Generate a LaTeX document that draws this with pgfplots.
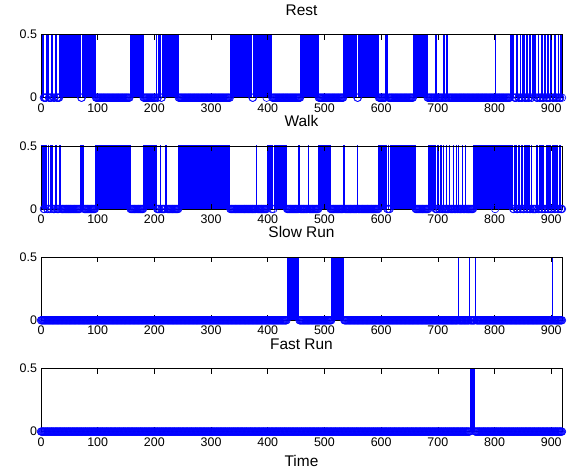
\documentclass[border=0pt]{standalone}
\usepackage{pgfplots}
\usepackage{pgfplotstable}
\pgfplotsset{compat=1.18}
\usepackage{fontspec}
\setmainfont{Liberation Sans}

% Rest (one value per sample, 10 per line)
\pgfplotstableread[row sep=\\,header=false]{
1\\1\\1\\1\\1\\0\\0\\0\\0\\0\\
1\\1\\1\\1\\0\\0\\0\\0\\0\\1\\
1\\1\\0\\0\\0\\1\\1\\1\\0\\0\\
0\\0\\0\\1\\1\\1\\1\\1\\1\\1\\
1\\1\\1\\1\\1\\1\\1\\1\\1\\1\\
1\\1\\1\\1\\1\\1\\1\\1\\1\\1\\
1\\1\\1\\1\\1\\1\\1\\1\\1\\1\\
1\\0\\0\\1\\1\\1\\1\\1\\1\\1\\
1\\1\\1\\1\\1\\1\\1\\1\\1\\1\\
1\\1\\1\\1\\1\\1\\1\\0\\0\\0\\
0\\0\\0\\0\\0\\0\\0\\0\\0\\0\\
0\\0\\0\\0\\0\\0\\0\\0\\0\\0\\
0\\0\\0\\0\\0\\0\\0\\0\\0\\0\\
0\\0\\0\\0\\0\\0\\0\\0\\0\\0\\
0\\0\\0\\0\\0\\0\\0\\0\\0\\0\\
0\\0\\0\\0\\0\\0\\0\\1\\1\\1\\
1\\1\\1\\1\\1\\1\\1\\1\\1\\1\\
1\\1\\1\\1\\1\\1\\1\\1\\1\\1\\
1\\0\\0\\0\\0\\0\\0\\0\\0\\0\\
0\\0\\0\\0\\0\\0\\0\\0\\0\\0\\
0\\0\\0\\1\\1\\0\\0\\1\\1\\1\\
1\\1\\0\\0\\1\\1\\1\\1\\1\\1\\
1\\1\\1\\1\\1\\1\\1\\1\\1\\1\\
1\\1\\1\\1\\1\\1\\1\\1\\1\\1\\
1\\1\\1\\0\\0\\0\\0\\0\\0\\0\\
0\\0\\0\\0\\0\\0\\0\\0\\0\\0\\
0\\0\\0\\0\\0\\0\\0\\0\\0\\0\\
0\\0\\0\\0\\0\\0\\0\\0\\0\\0\\
0\\0\\0\\0\\0\\0\\0\\0\\0\\0\\
0\\0\\0\\0\\0\\0\\0\\0\\0\\0\\
0\\0\\0\\0\\0\\0\\0\\0\\0\\0\\
0\\0\\0\\0\\0\\0\\0\\0\\0\\0\\
0\\0\\0\\0\\0\\0\\0\\0\\0\\0\\
0\\0\\0\\0\\1\\1\\1\\1\\1\\1\\
1\\1\\1\\1\\1\\1\\1\\1\\1\\1\\
1\\1\\1\\1\\1\\1\\1\\1\\1\\1\\
1\\1\\1\\1\\1\\1\\1\\1\\1\\1\\
1\\1\\1\\0\\0\\1\\1\\1\\1\\1\\
1\\1\\1\\1\\1\\1\\1\\1\\1\\1\\
1\\1\\1\\1\\1\\1\\1\\1\\0\\1\\
1\\1\\1\\1\\1\\1\\1\\1\\0\\0\\
0\\0\\0\\0\\0\\0\\0\\0\\0\\0\\
0\\0\\0\\0\\0\\0\\0\\0\\0\\0\\
0\\0\\0\\0\\0\\0\\0\\0\\0\\0\\
0\\0\\0\\0\\0\\0\\0\\0\\0\\0\\
0\\0\\0\\0\\0\\0\\0\\0\\1\\1\\
1\\1\\1\\1\\1\\1\\1\\1\\1\\1\\
1\\1\\1\\1\\1\\1\\1\\1\\1\\1\\
1\\1\\1\\1\\1\\1\\1\\1\\1\\1\\
0\\0\\0\\0\\0\\0\\0\\0\\0\\0\\
0\\0\\0\\0\\0\\0\\0\\0\\0\\0\\
0\\0\\0\\0\\0\\0\\0\\0\\0\\0\\
0\\0\\0\\0\\0\\0\\0\\0\\0\\0\\
0\\0\\0\\0\\1\\1\\1\\1\\1\\1\\
1\\1\\1\\1\\1\\1\\1\\1\\1\\1\\
1\\1\\1\\1\\1\\1\\1\\1\\0\\0\\
1\\1\\1\\1\\1\\1\\1\\1\\1\\1\\
1\\1\\1\\1\\1\\1\\1\\1\\1\\1\\
1\\1\\1\\1\\1\\1\\1\\1\\1\\1\\
1\\1\\1\\1\\1\\1\\0\\0\\0\\0\\
0\\0\\0\\0\\0\\0\\0\\0\\1\\1\\
1\\1\\1\\0\\0\\0\\0\\0\\0\\0\\
0\\0\\0\\0\\0\\0\\0\\0\\0\\0\\
0\\0\\0\\0\\0\\0\\0\\0\\0\\0\\
0\\0\\0\\0\\0\\0\\0\\0\\0\\0\\
0\\0\\0\\0\\0\\0\\0\\1\\1\\1\\
1\\1\\1\\1\\1\\1\\1\\1\\1\\1\\
1\\1\\1\\1\\1\\1\\1\\1\\1\\1\\
1\\1\\0\\0\\0\\0\\0\\0\\0\\0\\
0\\0\\0\\0\\0\\0\\1\\1\\0\\0\\
0\\0\\0\\0\\0\\0\\0\\0\\0\\0\\
1\\1\\0\\0\\0\\0\\1\\1\\0\\0\\
0\\0\\0\\0\\0\\0\\0\\0\\0\\0\\
0\\0\\0\\0\\0\\0\\0\\0\\0\\0\\
0\\0\\0\\0\\0\\0\\0\\0\\0\\0\\
0\\0\\0\\0\\0\\0\\0\\0\\0\\0\\
0\\0\\0\\0\\0\\0\\0\\0\\0\\0\\
0\\0\\0\\0\\0\\0\\0\\0\\0\\0\\
0\\0\\0\\0\\0\\0\\0\\0\\0\\0\\
0\\0\\0\\0\\0\\0\\0\\0\\0\\0\\
0\\1\\0\\0\\0\\0\\0\\0\\0\\0\\
0\\0\\0\\0\\0\\0\\0\\0\\0\\0\\
0\\0\\0\\0\\0\\0\\0\\0\\1\\1\\
1\\1\\1\\1\\1\\0\\0\\0\\0\\1\\
1\\1\\0\\0\\0\\1\\1\\0\\0\\0\\
1\\1\\1\\0\\0\\0\\0\\1\\1\\0\\
0\\0\\1\\1\\1\\0\\0\\1\\1\\1\\
1\\1\\1\\1\\0\\0\\0\\1\\1\\0\\
0\\0\\0\\1\\1\\0\\0\\0\\1\\1\\
1\\0\\0\\0\\1\\1\\0\\0\\0\\1\\
1\\1\\0\\0\\0\\0\\1\\1\\0\\0\\
0\\0\\1\\1\\0\\0\\0\\1\\1\\0\\
}\restdata

% Walk
\pgfplotstableread[row sep=\\,header=false]{
1\\1\\1\\1\\1\\0\\0\\1\\1\\1\\
1\\0\\0\\1\\1\\0\\1\\1\\0\\1\\
1\\1\\0\\0\\0\\1\\1\\1\\0\\0\\
0\\0\\1\\1\\1\\1\\0\\0\\0\\0\\
0\\0\\0\\0\\0\\0\\0\\0\\0\\0\\
0\\0\\0\\0\\0\\0\\0\\0\\0\\0\\
0\\0\\0\\0\\0\\0\\0\\0\\0\\1\\
1\\1\\1\\1\\1\\1\\0\\0\\0\\0\\
0\\0\\0\\0\\0\\0\\0\\0\\0\\0\\
0\\0\\0\\0\\0\\0\\1\\1\\1\\1\\
1\\1\\1\\1\\1\\1\\1\\1\\1\\1\\
1\\1\\1\\1\\1\\1\\1\\1\\1\\1\\
1\\1\\1\\1\\1\\1\\1\\1\\1\\1\\
1\\1\\1\\1\\1\\1\\1\\1\\1\\1\\
1\\1\\1\\1\\1\\1\\1\\1\\1\\1\\
1\\1\\1\\1\\1\\1\\1\\1\\0\\0\\
0\\0\\0\\0\\0\\0\\0\\0\\0\\0\\
0\\0\\0\\0\\0\\0\\0\\0\\0\\0\\
0\\1\\1\\1\\1\\1\\1\\1\\1\\1\\
1\\1\\1\\1\\1\\1\\1\\1\\1\\1\\
1\\1\\1\\1\\1\\0\\0\\0\\0\\0\\
1\\1\\0\\0\\0\\0\\0\\0\\0\\1\\
1\\1\\1\\0\\0\\0\\0\\0\\0\\0\\
0\\0\\0\\0\\0\\0\\0\\0\\0\\0\\
0\\0\\0\\1\\1\\1\\1\\1\\1\\1\\
1\\1\\1\\1\\1\\1\\1\\1\\1\\1\\
1\\1\\1\\1\\1\\1\\1\\1\\1\\1\\
1\\1\\1\\1\\1\\1\\1\\1\\1\\1\\
1\\1\\1\\1\\1\\1\\1\\1\\1\\1\\
1\\1\\1\\1\\1\\1\\1\\1\\1\\1\\
1\\1\\1\\1\\1\\1\\1\\1\\1\\1\\
1\\1\\1\\1\\1\\1\\1\\1\\1\\1\\
1\\1\\1\\1\\1\\1\\1\\1\\1\\1\\
1\\1\\1\\1\\0\\0\\0\\0\\0\\0\\
0\\0\\0\\0\\0\\0\\0\\0\\0\\0\\
0\\0\\0\\0\\0\\0\\0\\0\\0\\0\\
0\\0\\0\\0\\0\\0\\0\\0\\0\\0\\
0\\0\\0\\0\\0\\0\\0\\0\\0\\0\\
1\\1\\0\\0\\0\\0\\0\\0\\0\\0\\
0\\0\\0\\0\\0\\0\\0\\0\\0\\1\\
1\\1\\1\\1\\1\\1\\1\\0\\1\\1\\
0\\1\\1\\1\\1\\1\\1\\1\\1\\1\\
1\\1\\1\\1\\1\\1\\1\\1\\1\\1\\
1\\1\\1\\1\\0\\0\\0\\0\\0\\0\\
0\\0\\0\\0\\0\\0\\0\\0\\0\\0\\
0\\0\\0\\0\\0\\1\\1\\0\\0\\0\\
0\\0\\0\\0\\0\\0\\0\\0\\0\\0\\
0\\1\\1\\0\\0\\0\\0\\0\\0\\0\\
0\\0\\0\\0\\0\\0\\0\\0\\0\\0\\
1\\1\\1\\1\\1\\1\\1\\1\\1\\1\\
1\\1\\1\\1\\1\\1\\1\\1\\1\\1\\
1\\0\\0\\0\\0\\0\\0\\0\\0\\0\\
0\\0\\0\\0\\0\\0\\0\\0\\0\\0\\
0\\0\\0\\0\\1\\1\\0\\0\\0\\0\\
0\\0\\0\\0\\0\\0\\0\\0\\0\\0\\
0\\0\\0\\0\\0\\0\\0\\0\\1\\0\\
0\\0\\0\\0\\0\\0\\0\\0\\0\\0\\
0\\0\\0\\0\\0\\0\\0\\0\\0\\0\\
0\\0\\0\\0\\0\\0\\0\\0\\0\\0\\
0\\0\\0\\0\\0\\0\\1\\1\\1\\1\\
1\\1\\1\\1\\1\\1\\1\\1\\1\\1\\
1\\0\\0\\1\\0\\0\\1\\1\\1\\1\\
1\\1\\1\\1\\1\\1\\1\\1\\1\\1\\
1\\1\\1\\1\\1\\1\\1\\1\\1\\1\\
1\\1\\1\\1\\1\\1\\1\\1\\1\\1\\
1\\1\\1\\1\\1\\1\\1\\1\\1\\1\\
1\\0\\0\\0\\0\\0\\0\\0\\0\\0\\
0\\0\\0\\0\\0\\0\\0\\0\\0\\0\\
0\\0\\0\\0\\1\\1\\1\\1\\1\\1\\
1\\1\\1\\1\\1\\1\\0\\0\\0\\0\\
1\\1\\0\\0\\0\\1\\1\\0\\0\\0\\
1\\0\\0\\0\\0\\0\\1\\0\\0\\0\\
1\\1\\0\\0\\0\\0\\0\\0\\1\\0\\
0\\0\\0\\1\\0\\0\\0\\1\\0\\0\\
0\\0\\0\\1\\0\\0\\0\\0\\0\\1\\
0\\0\\0\\0\\0\\0\\0\\0\\0\\0\\
0\\0\\0\\1\\1\\1\\1\\1\\1\\1\\
1\\1\\1\\1\\1\\1\\1\\1\\1\\1\\
1\\1\\1\\1\\1\\1\\1\\1\\1\\1\\
1\\1\\1\\1\\1\\1\\1\\1\\1\\1\\
1\\0\\1\\1\\1\\1\\1\\1\\1\\1\\
1\\1\\1\\1\\1\\1\\1\\1\\1\\1\\
1\\1\\1\\1\\1\\1\\1\\1\\1\\1\\
1\\1\\1\\0\\0\\1\\1\\1\\1\\0\\
0\\0\\1\\1\\1\\0\\0\\1\\1\\1\\
0\\0\\0\\1\\1\\1\\1\\0\\0\\1\\
1\\1\\0\\0\\0\\1\\1\\0\\0\\0\\
0\\0\\0\\0\\1\\1\\1\\0\\0\\1\\
1\\1\\1\\0\\0\\1\\1\\1\\0\\0\\
0\\1\\1\\1\\0\\0\\1\\1\\1\\0\\
0\\0\\1\\1\\1\\1\\0\\0\\1\\1\\
1\\1\\0\\0\\1\\1\\1\\0\\0\\0\\
}\walkdata

% Slow Run
\pgfplotstableread[row sep=\\,header=false]{
0\\0\\0\\0\\0\\0\\0\\0\\0\\0\\
0\\0\\0\\0\\0\\0\\0\\0\\0\\0\\
0\\0\\0\\0\\0\\0\\0\\0\\0\\0\\
0\\0\\0\\0\\0\\0\\0\\0\\0\\0\\
0\\0\\0\\0\\0\\0\\0\\0\\0\\0\\
0\\0\\0\\0\\0\\0\\0\\0\\0\\0\\
0\\0\\0\\0\\0\\0\\0\\0\\0\\0\\
0\\0\\0\\0\\0\\0\\0\\0\\0\\0\\
0\\0\\0\\0\\0\\0\\0\\0\\0\\0\\
0\\0\\0\\0\\0\\0\\0\\0\\0\\0\\
0\\0\\0\\0\\0\\0\\0\\0\\0\\0\\
0\\0\\0\\0\\0\\0\\0\\0\\0\\0\\
0\\0\\0\\0\\0\\0\\0\\0\\0\\0\\
0\\0\\0\\0\\0\\0\\0\\0\\0\\0\\
0\\0\\0\\0\\0\\0\\0\\0\\0\\0\\
0\\0\\0\\0\\0\\0\\0\\0\\0\\0\\
0\\0\\0\\0\\0\\0\\0\\0\\0\\0\\
0\\0\\0\\0\\0\\0\\0\\0\\0\\0\\
0\\0\\0\\0\\0\\0\\0\\0\\0\\0\\
0\\0\\0\\0\\0\\0\\0\\0\\0\\0\\
0\\0\\0\\0\\0\\0\\0\\0\\0\\0\\
0\\0\\0\\0\\0\\0\\0\\0\\0\\0\\
0\\0\\0\\0\\0\\0\\0\\0\\0\\0\\
0\\0\\0\\0\\0\\0\\0\\0\\0\\0\\
0\\0\\0\\0\\0\\0\\0\\0\\0\\0\\
0\\0\\0\\0\\0\\0\\0\\0\\0\\0\\
0\\0\\0\\0\\0\\0\\0\\0\\0\\0\\
0\\0\\0\\0\\0\\0\\0\\0\\0\\0\\
0\\0\\0\\0\\0\\0\\0\\0\\0\\0\\
0\\0\\0\\0\\0\\0\\0\\0\\0\\0\\
0\\0\\0\\0\\0\\0\\0\\0\\0\\0\\
0\\0\\0\\0\\0\\0\\0\\0\\0\\0\\
0\\0\\0\\0\\0\\0\\0\\0\\0\\0\\
0\\0\\0\\0\\0\\0\\0\\0\\0\\0\\
0\\0\\0\\0\\0\\0\\0\\0\\0\\0\\
0\\0\\0\\0\\0\\0\\0\\0\\0\\0\\
0\\0\\0\\0\\0\\0\\0\\0\\0\\0\\
0\\0\\0\\0\\0\\0\\0\\0\\0\\0\\
0\\0\\0\\0\\0\\0\\0\\0\\0\\0\\
0\\0\\0\\0\\0\\0\\0\\0\\0\\0\\
0\\0\\0\\0\\0\\0\\0\\0\\0\\0\\
0\\0\\0\\0\\0\\0\\0\\0\\0\\0\\
0\\0\\0\\0\\0\\0\\0\\0\\0\\0\\
0\\0\\0\\0\\1\\1\\1\\1\\1\\1\\
1\\1\\1\\1\\1\\1\\1\\1\\1\\1\\
1\\1\\1\\1\\1\\1\\0\\0\\0\\0\\
0\\0\\0\\0\\0\\0\\0\\0\\0\\0\\
0\\0\\0\\0\\0\\0\\0\\0\\0\\0\\
0\\0\\0\\0\\0\\0\\0\\0\\0\\0\\
0\\0\\0\\0\\0\\0\\0\\0\\0\\0\\
0\\0\\0\\0\\0\\0\\0\\0\\0\\0\\
0\\0\\0\\1\\1\\1\\1\\1\\1\\1\\
1\\1\\1\\1\\1\\1\\1\\1\\1\\1\\
1\\1\\1\\1\\1\\0\\0\\0\\0\\0\\
0\\0\\0\\0\\0\\0\\0\\0\\0\\0\\
0\\0\\0\\0\\0\\0\\0\\0\\0\\0\\
0\\0\\0\\0\\0\\0\\0\\0\\0\\0\\
0\\0\\0\\0\\0\\0\\0\\0\\0\\0\\
0\\0\\0\\0\\0\\0\\0\\0\\0\\0\\
0\\0\\0\\0\\0\\0\\0\\0\\0\\0\\
0\\0\\0\\0\\0\\0\\0\\0\\0\\0\\
0\\0\\0\\0\\0\\0\\0\\0\\0\\0\\
0\\0\\0\\0\\0\\0\\0\\0\\0\\0\\
0\\0\\0\\0\\0\\0\\0\\0\\0\\0\\
0\\0\\0\\0\\0\\0\\0\\0\\0\\0\\
0\\0\\0\\0\\0\\0\\0\\0\\0\\0\\
0\\0\\0\\0\\0\\0\\0\\0\\0\\0\\
0\\0\\0\\0\\0\\0\\0\\0\\0\\0\\
0\\0\\0\\0\\0\\0\\0\\0\\0\\0\\
0\\0\\0\\0\\0\\0\\0\\0\\0\\0\\
0\\0\\0\\0\\0\\0\\0\\0\\0\\0\\
0\\0\\0\\0\\0\\0\\0\\0\\0\\0\\
0\\0\\0\\0\\0\\0\\0\\0\\0\\0\\
0\\0\\0\\0\\0\\0\\1\\0\\0\\0\\
0\\0\\0\\0\\0\\0\\0\\0\\0\\0\\
0\\0\\0\\0\\0\\0\\1\\0\\0\\0\\
0\\0\\0\\0\\0\\0\\1\\1\\0\\0\\
0\\0\\0\\0\\0\\0\\0\\0\\0\\0\\
0\\0\\0\\0\\0\\0\\0\\0\\0\\0\\
0\\0\\0\\0\\0\\0\\0\\0\\0\\0\\
0\\0\\0\\0\\0\\0\\0\\0\\0\\0\\
0\\0\\0\\0\\0\\0\\0\\0\\0\\0\\
0\\0\\0\\0\\0\\0\\0\\0\\0\\0\\
0\\0\\0\\0\\0\\0\\0\\0\\0\\0\\
0\\0\\0\\0\\0\\0\\0\\0\\0\\0\\
0\\0\\0\\0\\0\\0\\0\\0\\0\\0\\
0\\0\\0\\0\\0\\0\\0\\0\\0\\0\\
0\\0\\0\\0\\0\\0\\0\\0\\0\\0\\
0\\0\\0\\0\\0\\0\\0\\0\\0\\0\\
0\\0\\0\\0\\0\\0\\0\\0\\0\\0\\
0\\0\\0\\1\\0\\0\\0\\0\\0\\0\\
0\\0\\0\\0\\0\\0\\0\\0\\0\\0\\
}\slowdata

% Fast Run
\pgfplotstableread[row sep=\\,header=false]{
0\\0\\0\\0\\0\\0\\0\\0\\0\\0\\
0\\0\\0\\0\\0\\0\\0\\0\\0\\0\\
0\\0\\0\\0\\0\\0\\0\\0\\0\\0\\
0\\0\\0\\0\\0\\0\\0\\0\\0\\0\\
0\\0\\0\\0\\0\\0\\0\\0\\0\\0\\
0\\0\\0\\0\\0\\0\\0\\0\\0\\0\\
0\\0\\0\\0\\0\\0\\0\\0\\0\\0\\
0\\0\\0\\0\\0\\0\\0\\0\\0\\0\\
0\\0\\0\\0\\0\\0\\0\\0\\0\\0\\
0\\0\\0\\0\\0\\0\\0\\0\\0\\0\\
0\\0\\0\\0\\0\\0\\0\\0\\0\\0\\
0\\0\\0\\0\\0\\0\\0\\0\\0\\0\\
0\\0\\0\\0\\0\\0\\0\\0\\0\\0\\
0\\0\\0\\0\\0\\0\\0\\0\\0\\0\\
0\\0\\0\\0\\0\\0\\0\\0\\0\\0\\
0\\0\\0\\0\\0\\0\\0\\0\\0\\0\\
0\\0\\0\\0\\0\\0\\0\\0\\0\\0\\
0\\0\\0\\0\\0\\0\\0\\0\\0\\0\\
0\\0\\0\\0\\0\\0\\0\\0\\0\\0\\
0\\0\\0\\0\\0\\0\\0\\0\\0\\0\\
0\\0\\0\\0\\0\\0\\0\\0\\0\\0\\
0\\0\\0\\0\\0\\0\\0\\0\\0\\0\\
0\\0\\0\\0\\0\\0\\0\\0\\0\\0\\
0\\0\\0\\0\\0\\0\\0\\0\\0\\0\\
0\\0\\0\\0\\0\\0\\0\\0\\0\\0\\
0\\0\\0\\0\\0\\0\\0\\0\\0\\0\\
0\\0\\0\\0\\0\\0\\0\\0\\0\\0\\
0\\0\\0\\0\\0\\0\\0\\0\\0\\0\\
0\\0\\0\\0\\0\\0\\0\\0\\0\\0\\
0\\0\\0\\0\\0\\0\\0\\0\\0\\0\\
0\\0\\0\\0\\0\\0\\0\\0\\0\\0\\
0\\0\\0\\0\\0\\0\\0\\0\\0\\0\\
0\\0\\0\\0\\0\\0\\0\\0\\0\\0\\
0\\0\\0\\0\\0\\0\\0\\0\\0\\0\\
0\\0\\0\\0\\0\\0\\0\\0\\0\\0\\
0\\0\\0\\0\\0\\0\\0\\0\\0\\0\\
0\\0\\0\\0\\0\\0\\0\\0\\0\\0\\
0\\0\\0\\0\\0\\0\\0\\0\\0\\0\\
0\\0\\0\\0\\0\\0\\0\\0\\0\\0\\
0\\0\\0\\0\\0\\0\\0\\0\\0\\0\\
0\\0\\0\\0\\0\\0\\0\\0\\0\\0\\
0\\0\\0\\0\\0\\0\\0\\0\\0\\0\\
0\\0\\0\\0\\0\\0\\0\\0\\0\\0\\
0\\0\\0\\0\\0\\0\\0\\0\\0\\0\\
0\\0\\0\\0\\0\\0\\0\\0\\0\\0\\
0\\0\\0\\0\\0\\0\\0\\0\\0\\0\\
0\\0\\0\\0\\0\\0\\0\\0\\0\\0\\
0\\0\\0\\0\\0\\0\\0\\0\\0\\0\\
0\\0\\0\\0\\0\\0\\0\\0\\0\\0\\
0\\0\\0\\0\\0\\0\\0\\0\\0\\0\\
0\\0\\0\\0\\0\\0\\0\\0\\0\\0\\
0\\0\\0\\0\\0\\0\\0\\0\\0\\0\\
0\\0\\0\\0\\0\\0\\0\\0\\0\\0\\
0\\0\\0\\0\\0\\0\\0\\0\\0\\0\\
0\\0\\0\\0\\0\\0\\0\\0\\0\\0\\
0\\0\\0\\0\\0\\0\\0\\0\\0\\0\\
0\\0\\0\\0\\0\\0\\0\\0\\0\\0\\
0\\0\\0\\0\\0\\0\\0\\0\\0\\0\\
0\\0\\0\\0\\0\\0\\0\\0\\0\\0\\
0\\0\\0\\0\\0\\0\\0\\0\\0\\0\\
0\\0\\0\\0\\0\\0\\0\\0\\0\\0\\
0\\0\\0\\0\\0\\0\\0\\0\\0\\0\\
0\\0\\0\\0\\0\\0\\0\\0\\0\\0\\
0\\0\\0\\0\\0\\0\\0\\0\\0\\0\\
0\\0\\0\\0\\0\\0\\0\\0\\0\\0\\
0\\0\\0\\0\\0\\0\\0\\0\\0\\0\\
0\\0\\0\\0\\0\\0\\0\\0\\0\\0\\
0\\0\\0\\0\\0\\0\\0\\0\\0\\0\\
0\\0\\0\\0\\0\\0\\0\\0\\0\\0\\
0\\0\\0\\0\\0\\0\\0\\0\\0\\0\\
0\\0\\0\\0\\0\\0\\0\\0\\0\\0\\
0\\0\\0\\0\\0\\0\\0\\0\\0\\0\\
0\\0\\0\\0\\0\\0\\0\\0\\0\\0\\
0\\0\\0\\0\\0\\0\\0\\0\\0\\0\\
0\\0\\0\\0\\0\\0\\0\\0\\0\\0\\
0\\0\\0\\0\\0\\0\\0\\1\\1\\1\\
1\\1\\1\\1\\1\\1\\0\\0\\0\\0\\
0\\0\\0\\0\\0\\0\\0\\0\\0\\0\\
0\\0\\0\\0\\0\\0\\0\\0\\0\\0\\
0\\0\\0\\0\\0\\0\\0\\0\\0\\0\\
0\\0\\0\\0\\0\\0\\0\\0\\0\\0\\
0\\0\\0\\0\\0\\0\\0\\0\\0\\0\\
0\\0\\0\\0\\0\\0\\0\\0\\0\\0\\
0\\0\\0\\0\\0\\0\\0\\0\\0\\0\\
0\\0\\0\\0\\0\\0\\0\\0\\0\\0\\
0\\0\\0\\0\\0\\0\\0\\0\\0\\0\\
0\\0\\0\\0\\0\\0\\0\\0\\0\\0\\
0\\0\\0\\0\\0\\0\\0\\0\\0\\0\\
0\\0\\0\\0\\0\\0\\0\\0\\0\\0\\
0\\0\\0\\0\\0\\0\\0\\0\\0\\0\\
0\\0\\0\\0\\0\\0\\0\\0\\0\\0\\
0\\0\\0\\0\\0\\0\\0\\0\\0\\0\\
}\fastdata

\pgfplotsset{
  panel/.style={
    scale only axis, width=521bp, height=63bp, anchor=south west,
    xmin=0, xmax=919, ymin=0, ymax=0.5,
    xtick={0,100,200,300,400,500,600,700,800,900},
    xticklabels={0,100,200,300,400,500,600,700,800,900},
    ytick={0,0.5}, yticklabels={0,0.5},
    tick align=inside, tick pos=both,
    major tick length=5bp,
    axis line style={line width=0.6bp, black},
    every tick/.style={black, line width=0.6bp},
    tick label style={font=\fontsize{12.5}{14}\selectfont},
    xticklabel style={anchor=base, yshift=-14.5bp},
    yticklabel style={xshift=-0.5bp},
    title style={font=\fontsize{15.5}{18}\selectfont, at={(0.5,1)}, anchor=base, yshift=13.5bp},
    axis on top,
    /pgf/number format/assume math mode=true,
  },
  stem/.style={ycomb, color=blue, line width=1bp, no marks},
  dots/.style={only marks, color=blue, mark=o, mark size=3.8bp,
    mark options={line width=0.6bp}, restrict y to domain=-1:0.25},
}

\begin{document}
\begin{tikzpicture}
\path[use as bounding box] (0,0) rectangle (575bp,470bp);
\begin{axis}[panel, at={(41bp,372.3bp)}, title={Rest}]
\addplot[stem] table[x expr=\coordindex, y index=0] {\restdata};
\addplot[dots] table[x expr=\coordindex, y index=0] {\restdata};
\end{axis}
\begin{axis}[panel, at={(41bp,261bp)}, title={Walk}]
\addplot[stem] table[x expr=\coordindex, y index=0] {\walkdata};
\addplot[dots] table[x expr=\coordindex, y index=0] {\walkdata};
\end{axis}
\begin{axis}[panel, at={(41bp,149.7bp)}, title={Slow Run}]
\addplot[stem] table[x expr=\coordindex, y index=0] {\slowdata};
\addplot[dots] table[x expr=\coordindex, y index=0] {\slowdata};
\end{axis}
\begin{axis}[panel, at={(41bp,38.4bp)}, title={Fast Run},
  xlabel={Time}, xlabel style={font=\fontsize{15.5}{18}\selectfont, at={(0.5,0)}, anchor=base, yshift=-35bp}]
\addplot[stem] table[x expr=\coordindex, y index=0] {\fastdata};
\addplot[dots] table[x expr=\coordindex, y index=0] {\fastdata};
\end{axis}
\end{tikzpicture}
\end{document}
